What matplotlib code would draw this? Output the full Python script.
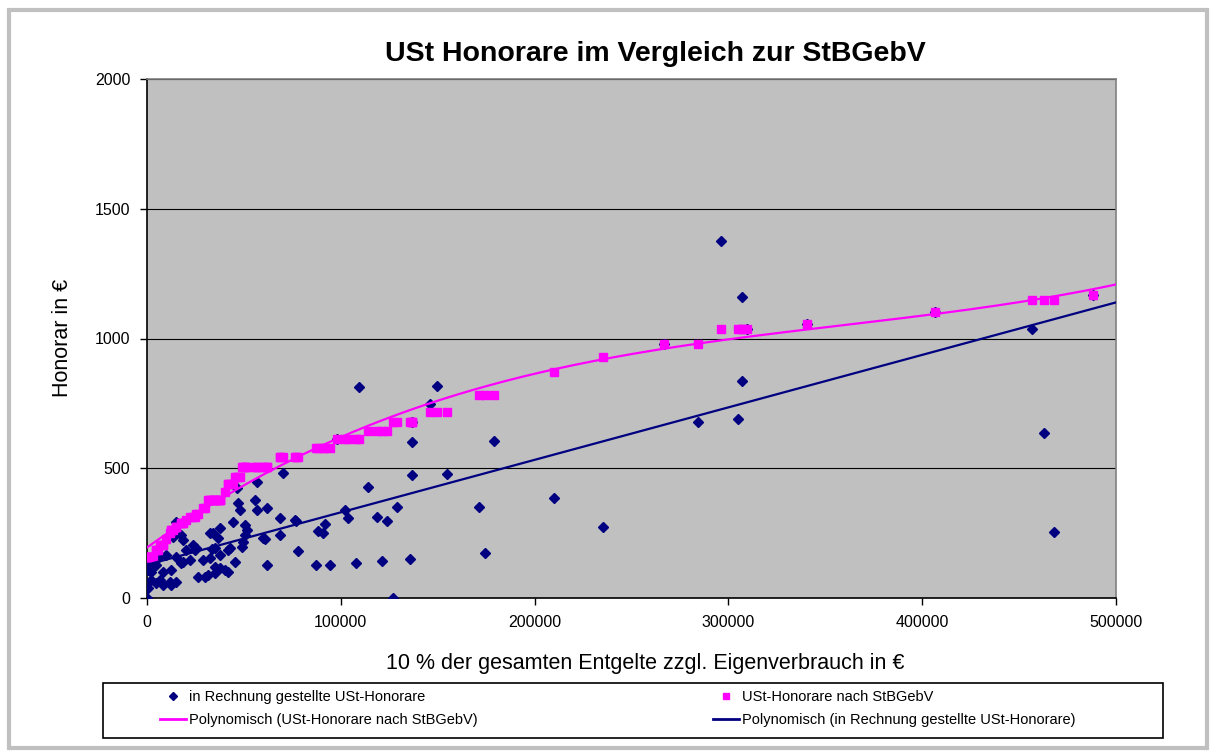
import numpy as np
import matplotlib.pyplot as plt
from matplotlib.lines import Line2D
from matplotlib.patches import Rectangle

plt.rcParams['font.family'] = ['Liberation Sans', 'DejaVu Sans']

# je Mandant: 10 % der Entgelte (x), in Rechnung gestelltes Honorar, Honorar nach StBGebV
entgelt_x = [0, 500, 2000, 6700, 11900, 15000, 8300, 12400, 17500, 15000,
             9800, 5700, 2000, 2000, 500, 4600, 13400, 18600, 500, 3000,
             4600, 8300, 12400, 15000, 17500, 20100, 18600, 22200, 23700, 25300,
             26300, 29900, 32500, 28900, 32500, 35100, 35100, 37700, 37700,
             46400, 47000, 48000, 56800, 55700, 56800, 61900, 44400, 36600, 50600,
             51600, 50600, 49500, 49000, 42800, 35100, 59900, 60900, 68600, 68600,
             76400, 45400, 37700, 40200, 41800, 61900, 34000, 24800, 33500, 41800,
             31500,
             109400, 149600, 146000, 136700, 179000, 70000, 136700, 155000, 114000,
             210000, 171300, 102200, 103700, 118700, 123800, 129000, 76900, 91800,
             88200, 90800, 77900, 174400, 87200, 94400, 107800, 121300, 135700,
             126900,
             296200, 307000, 307000, 284300, 305000, 235300, 456700, 462900, 468000,
             309600, 406700, 488100, 136700, 98000, 266800, 340600]
rechnung_y = [0, 38, 69, 69, 62, 62, 100, 108, 135, 158,
              166, 154, 127, 100, 108, 127, 235, 224, 139, 119,
              58, 50, 50, 293, 243, 185, 139, 146, 204, 193,
              81, 81, 250, 146, 154, 96, 119, 166, 270,
              424, 366, 339, 447, 378, 339, 347, 293, 231, 281,
              262, 243, 216, 196, 193, 193, 231, 227, 308, 243,
              301, 139, 116, 108, 100, 127, 250, 185, 189, 185,
              89,
              813, 817, 748, 601, 605, 482, 474, 478, 428,
              385, 351, 339, 308, 312, 297, 351, 297, 285,
              258, 251, 181, 173, 127, 127, 135, 143, 150,
              0,
              1376, 1160, 836, 678, 690, 274, 1037, 636, 254,
              1037, 1102, 1168, 678, 613, 979, 1056]
gebv_y = [158, 158, 158, 205, 250, 275, 205, 262, 290, 275,
          228, 185, 158, 158, 158, 185, 262, 290, 158, 158,
          185, 205, 262, 275, 290, 300, 290, 312, 312, 325,
          325, 345, 378, 345, 378, 378, 378, 378, 378,
          465, 465, 465, 505, 505, 505, 505, 440, 378, 505,
          505, 505, 505, 505, 440, 378, 505, 505, 543, 543,
          543, 465, 378, 410, 440, 505, 378, 312, 378, 440,
          378,
          613, 717, 717, 678, 782, 543, 678, 717, 644,
          871, 782, 613, 613, 644, 644, 678, 543, 578,
          578, 578, 543, 782, 578, 578, 613, 644, 678,
          678,
          1037, 1037, 1037, 979, 1037, 929, 1148, 1148, 1148,
          1037, 1102, 1168, 678, 613, 979, 1056]

navy = '#000080'
pink = '#FF00FF'

fig = plt.figure(figsize=(12.14, 7.56), dpi=100)
ax = fig.add_axes([147 / 1214, 1 - 598 / 756, 969 / 1214, 519 / 756])
ax.set_facecolor('#C0C0C0')

ax.plot(entgelt_x, rechnung_y, linestyle='none', marker='D', markersize=5,
        color=navy, markeredgecolor=navy, zorder=3)
ax.plot(entgelt_x, gebv_y, linestyle='none', marker='s', markersize=5.6,
        color=pink, markeredgecolor=pink, zorder=4)

# Trendlinien
xx = np.linspace(0, 500000, 300)
p_gebv = np.polyfit(entgelt_x, gebv_y, 3)
p_rech = np.polyfit(entgelt_x, rechnung_y, 1)
ax.plot(xx, np.polyval(p_gebv, xx), color=pink, lw=1.6, zorder=5)
ax.plot(xx, np.polyval(p_rech, xx), color=navy, lw=1.6, zorder=5)

ax.set_xlim(0, 500000)
ax.set_ylim(0, 2000)
ax.set_xticks(np.arange(0, 500001, 100000))
ax.set_yticks(np.arange(0, 2001, 500))
ax.set_xticklabels([str(v) for v in range(0, 500001, 100000)])
ax.grid(axis='y', color='black', lw=0.8)
ax.set_axisbelow(True)
ax.tick_params(direction='out', length=5, width=1, labelsize=11.5, color='black')
ax.tick_params(axis='x', pad=7)
ax.tick_params(axis='y', pad=7)
for s in ['left', 'bottom']:
    ax.spines[s].set_color('black')
    ax.spines[s].set_linewidth(1.2)
for s in ['top', 'right']:
    ax.spines[s].set_color('#808080')
    ax.spines[s].set_linewidth(1.2)

fig.text(655 / 1214, 1 - 54 / 756, 'USt Honorare im Vergleich zur StBGebV',
         ha='center', va='center', fontsize=20.5, fontweight='bold')
fig.text(645 / 1214, 1 - 663 / 756, '10 % der gesamten Entgelte zzgl. Eigenverbrauch in €',
         ha='center', va='center', fontsize=15.5)
fig.text(62 / 1214, 1 - 338 / 756, 'Honorar in €', rotation=90,
         ha='center', va='center', fontsize=15.5)

# Legende
fig.patches.append(Rectangle((103 / 1214, 1 - 738 / 756), 1060 / 1214, 55 / 756,
                             transform=fig.transFigure, fill=False,
                             edgecolor='black', lw=1.2))
h_dia = Line2D([], [], linestyle='none', marker='D', markersize=4, color=navy)
h_sq = Line2D([], [], linestyle='none', marker='s', markersize=5, color=pink)
h_pl = Line2D([], [], color=pink, lw=2)
h_bl = Line2D([], [], color=navy, lw=2)
common = dict(frameon=False, fontsize=10.5, handlelength=1.8, handletextpad=0.2,
              labelspacing=0.62, borderpad=0, borderaxespad=0, loc='upper left')
fig.legend([h_dia, h_pl], ['in Rechnung gestellte USt-Honorare',
                           'Polynomisch (USt-Honorare nach StBGebV)'],
           bbox_to_anchor=(160 / 1214, 1 - 690 / 756), **common)
fig.legend([h_sq, h_bl], ['USt-Honorare nach StBGebV',
                          'Polynomisch (in Rechnung gestellte USt-Honorare)'],
           bbox_to_anchor=(713 / 1214, 1 - 690 / 756), **common)

# grauer Rahmen
fig.patches.append(Rectangle((9 / 1214, 1 - 748 / 756), 1198 / 1214, 738 / 756,
                             transform=fig.transFigure, fill=False,
                             edgecolor='#C0C0C0', lw=3))

fig.savefig('out.png', dpi=100)
